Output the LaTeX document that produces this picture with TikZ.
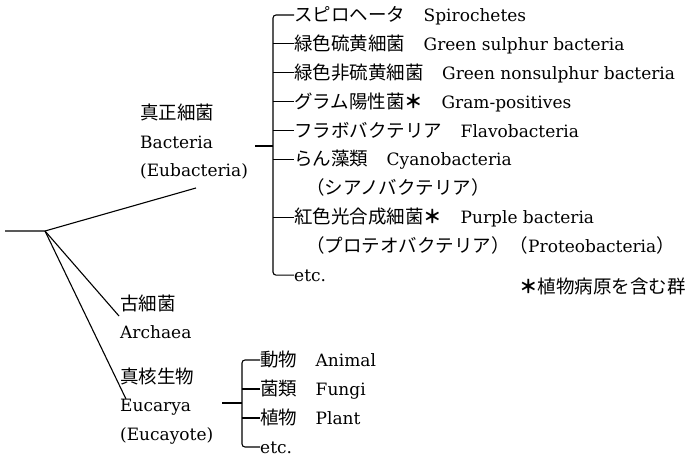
\documentclass[tikz,border=0pt]{standalone}
\usepackage{fontspec}
\setmainfont{DejaVu Serif}
\newfontfamily\jpfont{Noto Sans CJK JP}
\newcommand{\jtxt}[1]{{\jpfont\fontsize{18.5}{22}\selectfont #1}}
\newcommand{\jstar}{{\jpfont\bfseries\fontsize{18.5}{22}\selectfont ＊}}
\usepackage{tikz}

\tikzset{
  txt/.style={anchor=west, inner sep=0pt, text height=16pt, text depth=3pt,
    font=\fontsize{17}{20}\selectfont},
  tree/.style={line width=1.1pt},
}

\begin{document}
\begin{tikzpicture}[x=1pt,y=-1pt]
    \useasboundingbox (0,0) rectangle (685,457);

    % Bacteria
    \node[txt] (bac-ja) at (140,113) {\jtxt{真正細菌}};
    \node[txt] (bac-en) at (140,142) {Bacteria};
    \node[txt] (bac-eu) at (140,170) {(Eubacteria)};

    % Archaea
    \node[txt] (arc-ja) at (120,304) {\jtxt{古細菌}};
    \node[txt] (arc-en) at (120,332) {Archaea};

    % Eucarya
    \node[txt] (euc-ja) at (120,377) {\jtxt{真核生物}};
    \node[txt] (euc-en) at (120,405) {Eucarya};
    \node[txt] (euc-eu) at (120,434) {(Eucayote)};

    % tree
    \coordinate (root) at (5,231);
    \coordinate (fork) at (45,231);
    \coordinate (bac-end) at (196,188);
    \coordinate (arc-end) at (119,316);
    \coordinate (euc-end) at (126,399);
    \draw[tree] (root) -- (fork) -- (bac-end);
    \draw[tree] (fork) -- (arc-end);
    \draw[tree] (fork) -- (euc-end);

    % bacterial groups
    \node[txt] (b1) at (294,15.0) {\jtxt{スピロヘータ　}Spirochetes};
    \node[txt] (b2) at (294,43.9) {\jtxt{緑色硫黄細菌　}Green sulphur bacteria};
    \node[txt] (b3) at (294,72.8) {\jtxt{緑色非硫黄細菌　}Green nonsulphur bacteria};
    \node[txt] (b4) at (294,101.7) {\jtxt{グラム陽性菌}\jstar\jtxt{　}Gram-positives};
    \node[txt] (b5) at (294,130.6) {\jtxt{フラボバクテリア　}Flavobacteria};
    \node[txt] (b6) at (294,159.5) {\jtxt{らん藻類　}Cyanobacteria};
    \node[txt] (b7) at (306,188.4) {\jtxt{（シアノバクテリア）}};
    \node[txt] (b8) at (294,217.3) {\jtxt{紅色光合成細菌}\jstar\jtxt{　}Purple bacteria};
    \node[txt] (b9) at (306,246.2) {\jtxt{（プロテオバクテリア）（}Proteobacteria\jtxt{）}};
    \node[txt] (b10) at (294,275.1) {etc.};

    \coordinate (bac-tick) at (255,146);
    \coordinate (bx) at (273,146);
    \draw[tree] (bac-tick) -- (bx);
    \draw[tree, rounded corners=3pt] (b1.west) -| (bx) |- (b10.west);
    \foreach \i in {2,3,4,5,6,8}
        \draw[tree] (bx |- b\i.west) -- (b\i.west);

    % eucaryotic groups
    \node[txt] (e1) at (260,360) {\jtxt{動物　}Animal};
    \node[txt] (e2) at (260,389) {\jtxt{菌類　}Fungi};
    \node[txt] (e3) at (260,418) {\jtxt{植物　}Plant};
    \node[txt] (e4) at (260,447) {etc.};

    \coordinate (euc-tick) at (222,403);
    \coordinate (ex) at (242,403);
    \draw[tree] (euc-tick) -- (ex);
    \draw[tree, rounded corners=3pt] (e1.west) -| (ex) |- (e4.west);
    \foreach \i in {2,3}
        \draw[tree] (ex |- e\i.west) -- (e\i.west);

    % footnote
    \node[txt] (note) at (519,287) {\jstar\jtxt{植物病原を含む群}};
\end{tikzpicture}
\end{document}
